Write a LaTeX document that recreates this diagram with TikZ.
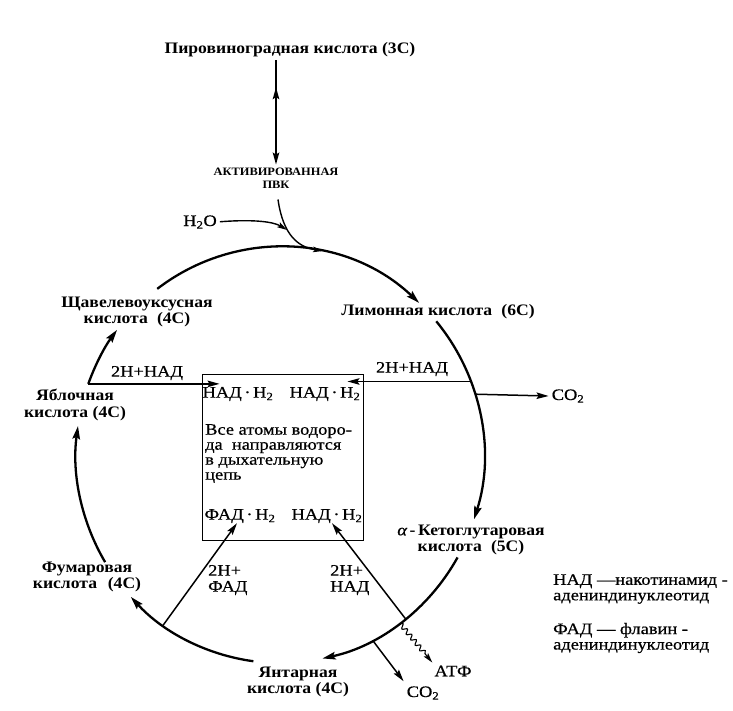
\documentclass[tikz,border=0pt]{standalone}
\usepackage{fontspec}
\setmainfont{Liberation Serif}[FakeStretch=1.15, FakeBold=0.6]
\newfontfamily\acidfont{Liberation Serif}[FakeStretch=1.1]
\usetikzlibrary{arrows.meta,calc,decorations.pathmorphing,decorations.markings}
\begin{document}
\begin{tikzpicture}[x=1pt,y=-1pt,
  acid/.style={font=\acidfont\fontsize{16}{16.5}\selectfont\bfseries, align=center, inner sep=0pt},
  smallcap/.style={font=\acidfont\fontsize{11.3}{13}\selectfont\bfseries, align=center, inner sep=0pt},
  lbl/.style={font=\fontsize{16}{16}\selectfont, inner sep=0pt},
  txt/.style={font=\fontsize{16}{15}\selectfont, align=left, inner sep=0pt},
  leg/.style={font=\fontsize{16}{15.5}\selectfont, align=left, inner sep=0pt},
  tipbig/.tip={Stealth[length=13pt,width=7.5pt,inset=2pt]},
  tipmid/.tip={Stealth[length=12pt,width=6.5pt,inset=2pt]},
  tipsmall/.tip={Stealth[length=10pt,width=5.5pt,inset=2pt]},
  cyc/.style={line width=2.3pt, -tipbig},
  arr/.style={line width=1.5pt, -tipmid},
  wavy/.style={line width=1.1pt, -tipsmall, decorate,
    decoration={snake, amplitude=2.2pt, segment length=7pt, post length=10pt}},
]
\useasboundingbox (0,0) rectangle (733,710);
\coordinate (C) at (280,455);

% ---------- nodes ----------
\node[acid] (pyr) at (290,50) {Пировиноградная кислота (3С)};
\node[smallcap] (akt) at (276,178) {АКТИВИРОВАННАЯ\\ПВК};
\node[lbl] (h2o) at (200,222) {H\textsubscript{2}O};
\node[acid] (shav) at (137,312) {Щавелевоуксусная\\кислота\hspace{0.3em} (4С)};
\node[acid] (lim) at (438,312) {Лимонная кислота\hspace{0.3em} (6С)};
\node[acid] (yabl) at (75,405) {Яблочная\\кислота (4С)};
\node[acid] (fum) at (87,577) {Фумаровая\\кислота\hspace{0.4em} (4С)};
\node[acid] (yant) at (298,682) {Янтарная\\кислота (4С)};
\node[acid] (keto) at (471,540) {{\normalfont\itshape α}\,-\,Кетоглутаровая\\кислота\hspace{0.3em} (5С)};
\node[lbl] (co2a) at (568,396) {CO\textsubscript{2}};
\node[lbl] (co2b) at (423,693) {CO\textsubscript{2}};
\node[lbl] (atf) at (453,671) {АТФ};

\node[draw, line width=0.9pt, minimum width=161, minimum height=166, inner sep=0pt] (box) at (282.5,457) {};
\node[lbl] (nadA) at (238,394) {НАД\,·\,Н\textsubscript{2}};
\node[lbl] (nadB) at (325,394) {НАД\,·\,Н\textsubscript{2}};
\node[txt, anchor=north west] (note) at (205,424) {Все атомы водоро-\\да\ \ направляются\\в дыхательную\\цепь};
\node[lbl] (fadh) at (240,516) {ФАД\,·\,Н\textsubscript{2}};
\node[lbl] (nadC) at (327,516) {НАД\,·\,Н\textsubscript{2}};

\node[lbl] (l1) at (147,373) {2H+НАД};
\node[lbl] (l2) at (412,369) {2H+НАД};
\node[lbl, align=left, anchor=west] (l3) at (208,580) {2H+\\ФАД};
\node[lbl, align=left, anchor=west] (l4) at (330,580) {2H+\\НАД};

\node[leg, anchor=west] (leg1) at (553,589) {НАД —накотинамид -\\адениндинуклеотид};
\node[leg, anchor=west] (leg2) at (553,638) {ФАД — флавин -\\адениндинуклеотид};

% ---------- entry ----------
\draw[line width=1.4pt, shorten <=3pt, shorten >=3pt, -tipmid,
  postaction={decorate},
  decoration={markings, mark=at position 0.27 with {\arrowreversed{tipmid}}}]
  (pyr.south -| akt.north) -- (akt.north);

\coordinate (merge) at (323,251);
\coordinate (wtgt) at (287,230);
\draw[line width=1.4pt, -tipsmall] ($(akt.south)+(2,11)$) .. controls (283,235) and (298,247) .. (merge);
\draw[line width=1.4pt, shorten <=3pt, -tipsmall] (h2o.east) .. controls (255,219) and (274,222) .. (wtgt);

% ---------- cycle ----------
\draw[cyc] ($(C)+(-127:204 and 208)$) arc[start angle=-127, end angle=-47, x radius=204, y radius=208];
\draw[cyc] ($(C)+(-40:204 and 208)$) arc[start angle=-40, end angle=18, x radius=204, y radius=208];
\draw[cyc] ($(C)+(29.5:204 and 208)$) arc[start angle=29.5, end angle=78, x radius=204, y radius=208];
\draw[cyc] ($(C)+(97.5:204 and 208)$) arc[start angle=97.5, end angle=137, x radius=204, y radius=208];
\draw[cyc] ($(C)+(149:204 and 208)$) arc[start angle=149, end angle=188, x radius=204, y radius=208];
\draw[cyc] ($(C)+(200:204 and 208)$) arc[start angle=200, end angle=217, x radius=204, y radius=208];

% ---------- branches ----------
\coordinate (pNADl) at ($(C)+(200:204 and 208)$);
\coordinate (pNADr) at ($(C)+(-20.7:204 and 208)$);
\coordinate (pCO2a) at ($(C)+(-17:204 and 208)$);
\coordinate (pFAD) at ($(C)+(125:204 and 208)$);
\coordinate (pNADb) at ($(C)+(52:204 and 208)$);
\coordinate (pATF) at ($(C)+(54:204 and 208)$);
\coordinate (pCO2b) at ($(C)+(63:204 and 208)$);

\draw[arr] (pNADl) -- ($(box.west |- pNADl)+(18,0)$);
\draw[arr] (pNADr) -- ($(box.east |- pNADr)+(-16,0)$);
\draw[arr] (pCO2a) -- ($(co2a.west)+(-3,0)$);
\draw[arr] (pFAD) -- ($(fadh.south)+(-3,0)$);
\draw[arr] (pNADb) -- ($(nadC.south)+(5,0)$);
\draw[wavy] (pATF) -- ($(atf.north west)+(-2,-3)$);
\draw[arr] (pCO2b) -- ($(co2b.north west)+(-3,-5)$);
\end{tikzpicture}
\end{document}
